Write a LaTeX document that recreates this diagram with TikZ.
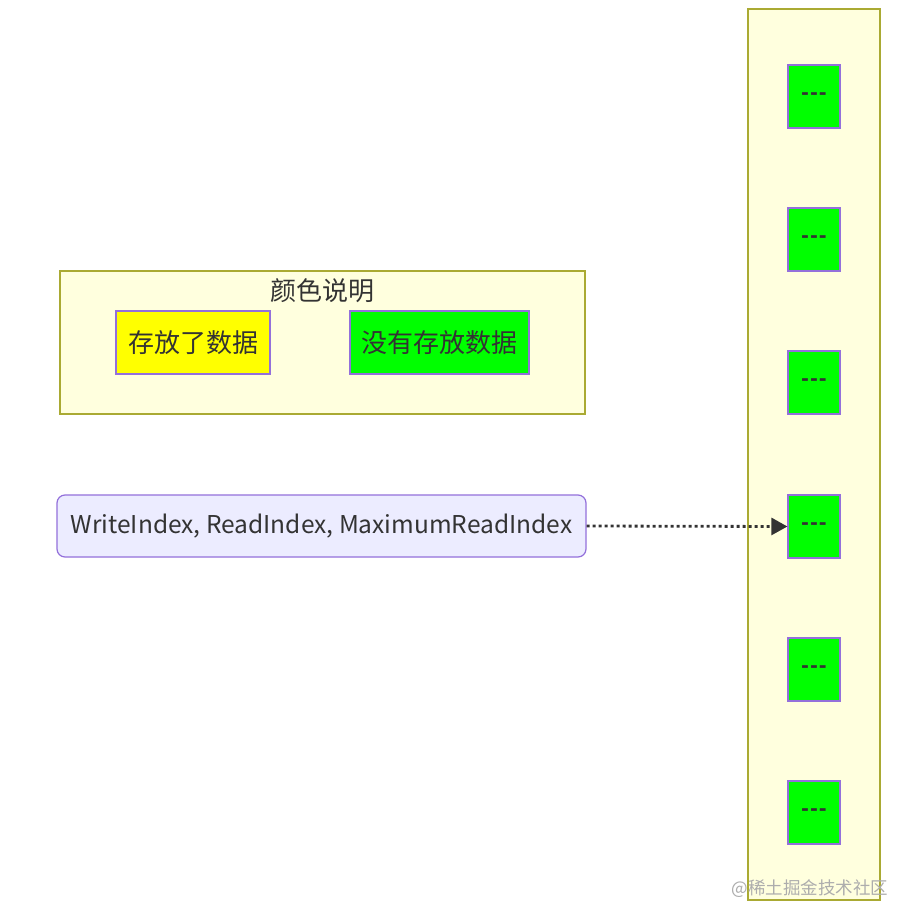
\documentclass[tikz,border=0pt]{standalone}
\usepackage{fontspec}
\setmainfont{Noto Sans CJK SC}
\newfontfamily\dashfont{DejaVu Sans}
\usetikzlibrary{arrows.meta}
\definecolor{clusterfill}{HTML}{FFFFDE}
\definecolor{clusterline}{HTML}{AAAA33}
\definecolor{nodeline}{HTML}{9370DB}
\definecolor{nodefill}{HTML}{ECECFF}
\definecolor{greenfill}{HTML}{00FF00}
\definecolor{yellowfill}{HTML}{FFFF00}
\definecolor{txt}{HTML}{333333}
\tikzset{
  cluster/.style={draw=clusterline, fill=clusterfill, line width=1.4pt},
  slot/.style={draw=nodeline, fill=greenfill, line width=1.2pt, minimum width=52pt, minimum height=63pt, inner sep=0pt, text=txt, font=\dashfont\bfseries\fontsize{19}{22}\selectfont},
  legend/.style={draw=nodeline, line width=1.2pt, minimum height=63pt, inner sep=0pt, text=txt, font=\fontsize{26}{30}\selectfont},
}
\begin{document}
\begin{tikzpicture}[x=1pt,y=-1pt]
\useasboundingbox (0,0) rectangle (898,907);
\fill[white] (0,0) rectangle (898,907);
% right column cluster
\draw[cluster] (748,9) rectangle (880,900);
\node[slot] (s1) at (814,96.5) {-\kern1pt-\kern1pt-};
\node[slot] (s2) at (814,239.5) {-\kern1pt-\kern1pt-};
\node[slot] (s3) at (814,382.5) {-\kern1pt-\kern1pt-};
\node[slot] (s4) at (814,526.5) {-\kern1pt-\kern1pt-};
\node[slot] (s5) at (814,669.5) {-\kern1pt-\kern1pt-};
\node[slot] (s6) at (814,812.5) {-\kern1pt-\kern1pt-};
% legend cluster
\draw[cluster] (60,271) rectangle (585,414);
\node[text=txt, font=\fontsize{26}{30}\selectfont] (title) at (322.5,291) {颜色说明};
\node[legend, fill=yellowfill, minimum width=154pt] (used) at (193,342.5) {存放了数据};
\node[legend, fill=greenfill, minimum width=179pt] (free) at (439.5,342.5) {没有存放数据};
% index node
\node[draw=nodeline, fill=nodefill, line width=1.2pt, rounded corners=8pt, minimum width=529pt, minimum height=62pt, inner sep=0pt, text=txt, font=\fontsize{24.5}{28}\selectfont] (idx) at (321.5,526) {WriteIndex, ReadIndex, MaximumReadIndex};
\draw[txt, line width=2.8pt, dash pattern=on 3pt off 3pt, -{Triangle[length=16pt,width=17pt]}] (idx.east) -- (s4.west);
% watermark
\node[text=black!32, font=\fontsize{17.5}{20}\selectfont, anchor=east] (wm) at (892,889) {@稀土掘金技术社区};
\end{tikzpicture}
\end{document}
